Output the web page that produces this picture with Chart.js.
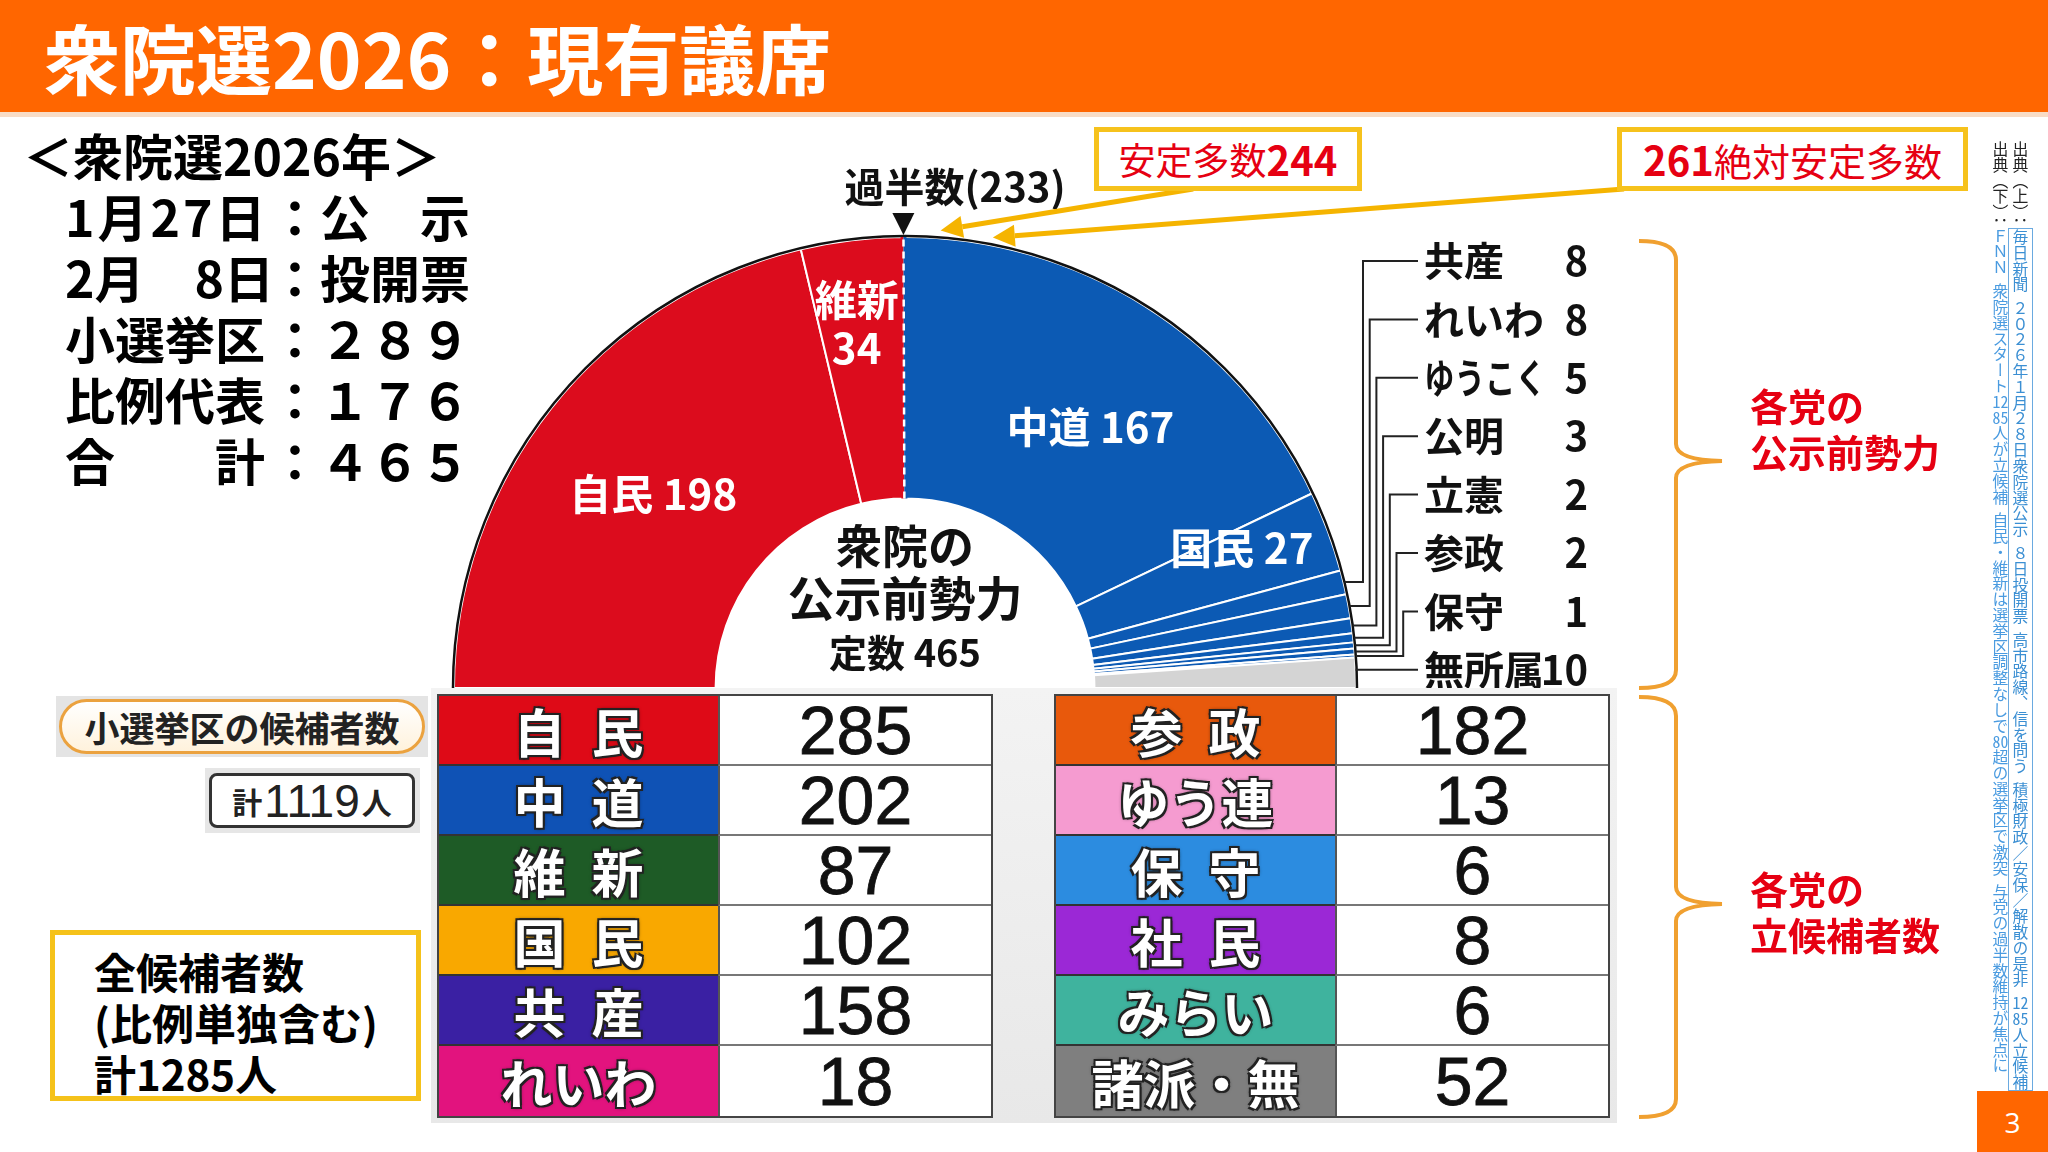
<!DOCTYPE html>
<html lang="ja">
<head>
<meta charset="utf-8">
<title>衆院選2026：現有議席</title>
<script src="https://cdn.jsdelivr.net/npm/chart.js@4.4.1/dist/chart.umd.min.js"></script>
<style>
  html, body { margin: 0; padding: 0; }
  body {
    width: 2048px; height: 1152px; position: relative; overflow: hidden;
    background: #fff; color: #000;
    font-family: "Noto Sans CJK JP", "Noto Sans", sans-serif;
  }
  .header { position: absolute; left: 0; top: 0; width: 2048px; height: 112px; background: #ff6600; }
  .header-line { position: absolute; left: 0; top: 112px; width: 2048px; height: 5px; background: #f8dcc6; }
  .title {
    position: absolute; left: 44px; top: 13px; color: #fff; font-weight: 700;
    font-size: 76px; line-height: 86px; white-space: nowrap;
  }
  .info { position: absolute; left: 23px; top: 124px; font-weight: 700; font-size: 50px; line-height: 61px; white-space: nowrap; }
  .info .row { display: flex; margin-left: 42px; }
  .info .k { width: 205px; }
  .info .c { width: 50px; text-align: center; }
  .pill-bg { position: absolute; left: 56px; top: 696px; width: 372px; height: 61px; background: #e4e4e4; }
  .pill {
    position: absolute; left: 3px; top: 3px; right: 3px; bottom: 3px; box-sizing: border-box;
    border: 3px solid #eba23f; border-radius: 28px; background: linear-gradient(#fff, #fff2dc);
    display: flex; align-items: center; justify-content: center;
    font-size: 35px; font-weight: 700; color: #222; white-space: nowrap;
  }
  .sum-bg { position: absolute; left: 205px; top: 768px; width: 215px; height: 65px; background: #e6e6e6; }
  .sum {
    position: absolute; left: 4px; top: 5px; width: 206px; height: 55px; box-sizing: border-box;
    border: 3px solid #333; border-radius: 8px; background: #fff;
    display: flex; align-items: center; justify-content: center; color: #222; white-space: nowrap;
  }
  .sum .s { font-size: 30px; font-weight: 700; }
  .sum .b { font-size: 46px; font-family: "Liberation Sans", Arial, sans-serif; margin: 0 2px; }
  .total {
    position: absolute; left: 50px; top: 930px; width: 371px; height: 171px; box-sizing: border-box;
    border: 5px solid #f5c21a; background: #fff; padding: 10px 0 0 39px;
    font-size: 42px; font-weight: 700; line-height: 51px; white-space: nowrap;
  }
  #seatWrap { position: absolute; left: 440px; top: 120px; width: 1260px; height: 580px; }
  .stable {
    position: absolute; top: 127px; height: 64px; box-sizing: border-box;
    border: 5px solid #f6c21c; background: #fff; color: #e60012;
    display: flex; align-items: center; justify-content: center; white-space: nowrap;
    font-size: 37px;
  }
  .stable b { font-size: 40px; }
  #stable244 { left: 1094px; width: 268px; }
  #stable261 { left: 1617px; width: 351px; font-size: 38px; }
  .panel { position: absolute; left: 431px; top: 688px; width: 1186px; height: 435px; background: linear-gradient(#f3f3f3, #e8e8e8); }
  .ctable {
    position: absolute; top: 694px; width: 556px; box-sizing: border-box;
    display: grid; grid-template-columns: 279px 273px; border: 2px solid #444; background: #fff;
  }
  #candTable1 { left: 437px; }
  #candTable2 { left: 1054px; }
  .ctable .name {
    height: 70px; box-sizing: border-box; border-bottom: 2px solid #333;
    display: flex; align-items: center; justify-content: center;
    color: #fff; font-weight: 700; font-size: 52px; white-space: nowrap;
    text-shadow: 2px 2px 0 #222, -2px -2px 0 #222, 2px -2px 0 #222, -2px 2px 0 #222, 0 0 4px #000;
  }
  .ctable .num {
    height: 70px; box-sizing: border-box; border-bottom: 2px solid #777; border-left: 2px solid #555;
    display: flex; align-items: center; justify-content: center;
    font-family: "Liberation Sans", Arial, sans-serif; font-size: 68px; color: #111;
    -webkit-text-stroke: 0.8px #111;
  }
  .ctable .name:nth-last-child(2), .ctable .num:last-child { border-bottom: none; }
  .side { position: absolute; color: #e60012; font-weight: 700; font-size: 38px; line-height: 46px; white-space: nowrap; }
  .source {
    position: absolute; top: 141px; right: 18px; height: 1000px;
    writing-mode: vertical-rl; font-size: 15.8px; line-height: 20px; color: #222; white-space: nowrap;
  }
  .source .link { color: #3b8fd3; border: 1px solid #6aaae0; }
  .source .link2 { color: #4a9be0; }
  .tcy { text-combine-upright: all; }
  .page {
    position: absolute; left: 1977px; top: 1091px; width: 71px; height: 61px; background: #ff6600;
    color: #fff; font-size: 28px; display: flex; align-items: center; justify-content: center;
    font-family: "Open Sans", "Noto Sans", sans-serif;
  }
</style>
</head>
<body>
<div class="header"></div>
<div class="header-line"></div>
<div class="title">衆院選2026：現有議席</div>

<div class="info">
  <div>＜衆院選2026年＞</div>
  <div class="row"><span class="k" style="letter-spacing:3px">1月27日</span><span class="c">：</span><span>公　示</span></div>
  <div class="row"><span class="k">2月　8日</span><span class="c">：</span><span>投開票</span></div>
  <div class="row"><span class="k">小選挙区</span><span class="c">：</span><span>２８９</span></div>
  <div class="row"><span class="k">比例代表</span><span class="c">：</span><span>１７６</span></div>
  <div class="row"><span class="k">合　　計</span><span class="c">：</span><span>４６５</span></div>
</div>

<div id="seatWrap"><canvas id="seatChart"></canvas></div>

<div class="stable" id="stable244">安定多数<b>244</b></div>
<div class="stable" id="stable261"><b>261</b>絶対安定多数</div>

<div class="panel"></div>
<div class="ctable" id="candTable1"></div>
<div class="ctable" id="candTable2"></div>

<div class="pill-bg"><div class="pill">小選挙区の候補者数</div></div>
<div class="sum-bg"><div class="sum"><span class="s">計</span><span class="b">1119</span><span class="s">人</span></div></div>
<div class="total">全候補者数<br>(比例単独含む)<br>計1285人</div>

<svg style="position:absolute;left:0;top:0" width="2048" height="1152">
  <g fill="none" stroke="#f0a030" stroke-width="4">
    <path d="M1639,241 Q1676,241 1676,260 L1676,444 Q1676,460 1722,461 Q1676,462 1676,478 L1676,670 Q1676,688 1639,688"/>
    <path d="M1639,697 Q1676,697 1676,716 L1676,887 Q1676,903 1722,904 Q1676,905 1676,921 L1676,1099 Q1676,1117 1639,1117"/>
  </g>
</svg>
<div class="side" style="left:1750px;top:382px">各党の<br>公示前勢力</div>
<div class="side" style="left:1750px;top:865px">各党の<br>立候補者数</div>

<div class="source">出典（上）：<span class="link">毎日新聞&ensp;２０２６年１月２８日衆院選公示&ensp;８日投開票&ensp;高市路線、信を問う&ensp;積極財政／安保／解散の是非&ensp;<span class="tcy">12</span><span class="tcy">85</span>人立候補</span><br>出典（下）：<span class="link2">ＦＮＮ&ensp;衆院選スタート<span class="tcy">12</span><span class="tcy">85</span>人が立候補&ensp;自民・維新は選挙区調整なしで<span class="tcy">80</span>超の選挙区で激突&ensp;与党の過半数維持が焦点に</span></div>

<div class="page">3</div>

<script>
// seats held before the official announcement (total 465)
const seatParties = ["自民", "維新", "中道", "国民", "共産", "れいわ", "ゆうこく", "公明", "立憲", "参政", "保守", "無所属"];
const seatValues = [198, 34, 167, 27, 8, 8, 5, 3, 2, 2, 1, 10];
const seatColors = ["#dc0c1d", "#dc0c1d", "#0c5ab4", "#0c5ab4", "#0c5ab4", "#0c5ab4", "#0c5ab4",
  "#0c5ab4", "#0c5ab4", "#0c5ab4", "#0c5ab4", "#d4d4d4"];
const totalSeats = 465;
const majority = 233;
const stableMajority = 244;
const absoluteMajority = 261;

// single-member district candidates
const candParties1 = ["自民", "中道", "維新", "国民", "共産", "れいわ"];
const candValues1 = [285, 202, 87, 102, 158, 18];
const candColors1 = ["#de0a17", "#0f52b5", "#1e5b26", "#f9a800", "#3a20a3", "#e2137e"];
const candParties2 = ["参政", "ゆう連", "保守", "社民", "みらい", "諸派・無"];
const candValues2 = [182, 13, 6, 8, 6, 52];
const candColors2 = ["#e8590c", "#f59bd0", "#2c8ce0", "#9b28d6", "#3fb39e", "#7f7f7f"];

function buildTable(el, names, values, colors) {
  names.forEach((name, i) => {
    const n = document.createElement("div");
    n.className = "name";
    n.style.background = colors[i];
    n.textContent = name.length === 2 ? name[0] + "\u2002" + name[1] : name;
    const v = document.createElement("div");
    v.className = "num";
    v.textContent = values[i];
    el.append(n, v);
  });
}
buildTable(document.getElementById("candTable1"), candParties1, candValues1, candColors1);
buildTable(document.getElementById("candTable2"), candParties2, candValues2, candColors2);

const FONT = '"Noto Sans CJK JP", sans-serif';

// where the in-slice labels sit: [index, fraction along the slice, fraction across the ring]
const sliceLabelSpots = [[0, 0.49, 0.49], [1, 0.44, 0.68], [2, 0.55, 0.5], [3, 0.29, 0.67]];

function arrow(ctx, sx, sy, tx, ty) {
  const ang = Math.atan2(ty - sy, tx - sx);
  const len = 22;
  const bx = tx - len * Math.cos(ang), by = ty - len * Math.sin(ang);
  ctx.beginPath();
  ctx.moveTo(sx, sy);
  ctx.lineTo(bx, by);
  ctx.stroke();
  ctx.beginPath();
  ctx.moveTo(tx, ty);
  ctx.lineTo(bx + 11 * Math.sin(ang), by - 11 * Math.cos(ang));
  ctx.lineTo(bx - 11 * Math.sin(ang), by + 11 * Math.cos(ang));
  ctx.closePath();
  ctx.fill();
}

const seatOverlay = {
  id: "seatOverlay",
  afterDatasetsDraw(chart) {
    const ctx = chart.ctx;
    const arcs = chart.getDatasetMeta(0).data;
    const cx = arcs[0].x, cy = arcs[0].y;
    const R = arcs[0].outerRadius, r0 = arcs[0].innerRadius;
    const angleOf = (v) => -Math.PI + (v / totalSeats) * Math.PI;
    const at = (a, rad) => [cx + rad * Math.cos(a), cy + rad * Math.sin(a)];
    ctx.save();

    // black rim
    ctx.strokeStyle = "#111";
    ctx.lineWidth = 2.5;
    ctx.beginPath();
    ctx.arc(cx, cy, R + 1, -Math.PI, 0);
    ctx.stroke();

    // majority line (dashed) between 維新 and 中道
    const aMaj = arcs[1].endAngle;
    const nx = -Math.sin(aMaj), ny = Math.cos(aMaj);
    const [ix, iy] = at(aMaj, r0), [ox, oy] = at(aMaj, R);
    ctx.lineWidth = 3;
    [[seatColors[1], -1.5], [seatColors[2], 1.5]].forEach(([c, d]) => {
      ctx.strokeStyle = c;
      ctx.beginPath();
      ctx.moveTo(ix + nx * d, iy + ny * d);
      ctx.lineTo(ox + nx * d, oy + ny * d);
      ctx.stroke();
    });
    ctx.strokeStyle = "#fff";
    ctx.lineWidth = 2.5;
    ctx.setLineDash([7, 5]);
    ctx.beginPath();
    ctx.moveTo(ix, iy);
    ctx.lineTo(ox, oy);
    ctx.stroke();
    ctx.setLineDash([]);

    // ▼ and 過半数 label
    const [tx, ty] = at(aMaj, R + 2);
    const [bx, by] = at(aMaj, R + 24);
    ctx.fillStyle = "#111";
    ctx.beginPath();
    ctx.moveTo(tx, ty);
    ctx.lineTo(bx + nx * 11, by + ny * 11);
    ctx.lineTo(bx - nx * 11, by - ny * 11);
    ctx.closePath();
    ctx.fill();
    ctx.font = "bold 40px " + FONT;
    ctx.textAlign = "left";
    ctx.textBaseline = "middle";
    ctx.fillText("過半数(" + majority + ")", tx - 59, cy - R - 50);

    // labels inside slices
    ctx.fillStyle = "#fff";
    ctx.font = "bold 42px " + FONT;
    ctx.textAlign = "center";
    let cum = [];
    seatValues.reduce((s, v, i) => { cum[i] = s; return s + v; }, 0);
    sliceLabelSpots.forEach(([i, f, k]) => {
      const a = angleOf(cum[i] + f * seatValues[i]);
      const [lx, ly] = at(a, r0 + k * (R - r0));
      if (i === 1) {
        ctx.fillText(seatParties[i], lx, ly - 24);
        ctx.fillText(String(seatValues[i]), lx, ly + 24);
      } else {
        ctx.fillText(seatParties[i] + " " + seatValues[i], lx, ly);
      }
    });

    // centre text
    ctx.fillStyle = "#111";
    ctx.font = "bold 46px " + FONT;
    ctx.fillText("衆院の", cx, cy - 142);
    ctx.font = "bold 47px " + FONT;
    ctx.fillText("公示前勢力", cx, cy - 90);
    ctx.font = "bold 38px " + FONT;
    ctx.fillText("定数 " + totalSeats, cx, cy - 35);

    // arrows from the stable-majority boxes
    const cRect = chart.canvas.getBoundingClientRect();
    ctx.strokeStyle = "#f5b400";
    ctx.fillStyle = "#f5b400";
    ctx.lineWidth = 5;
    [["stable244", 0.37, stableMajority], ["stable261", 0.02, absoluteMajority]].forEach(([id, frac, v]) => {
      const r = document.getElementById(id).getBoundingClientRect();
      const sx = r.left - cRect.left + frac * r.width;
      const sy = r.bottom - cRect.top - 2;
      const [ax, ay] = at(angleOf(v), R + 8);
      arrow(ctx, sx, sy, ax, ay);
    });

    // small parties: leader lines and list
    const listX = cx + R + 68;
    const listTop = cy - R + 24;
    const listStep = 58.4;
    ctx.strokeStyle = "#222";
    ctx.lineWidth = 2;
    ctx.textBaseline = "middle";
    for (let i = 4; i < seatParties.length; i++) {
      const j = i - 4;
      const yl = listTop + j * listStep;
      const arc = arcs[i];
      const [px, py] = at((arc.startAngle + arc.endAngle) / 2, R + 1);
      ctx.beginPath();
      if (i < seatParties.length - 1) {
        const vx = cx + R + 7 + j * 6.7;
        ctx.moveTo(px, py);
        ctx.lineTo(vx, py);
        ctx.lineTo(vx, yl);
      } else {
        ctx.moveTo(cx + Math.sqrt(R * R - (cy - yl) * (cy - yl)), yl);
      }
      ctx.lineTo(listX - 6, yl);
      ctx.stroke();
      ctx.fillStyle = "#111";
      ctx.font = "bold 40px " + FONT;
      ctx.textAlign = "left";
      ctx.fillText(seatParties[i], listX, yl, 122);
      ctx.textAlign = "right";
      ctx.fillText(String(seatValues[i]), listX + 164, yl);
    }
    ctx.restore();
  },
};

new Chart(document.getElementById("seatChart"), {
  type: "doughnut",
  data: {
    labels: seatParties,
    datasets: [{
      data: seatValues,
      backgroundColor: seatColors,
      borderColor: "#fff",
      borderWidth: 2,
    }],
  },
  options: {
    responsive: true,
    maintainAspectRatio: false,
    animation: false,
    rotation: -90,
    circumference: 180,
    cutout: "42%",
    layout: { padding: { left: 13, right: 343, top: 116, bottom: 11 } },
    plugins: {
      legend: { display: false },
      tooltip: { enabled: false },
    },
  },
  plugins: [seatOverlay],
});
</script>
</body>
</html>
